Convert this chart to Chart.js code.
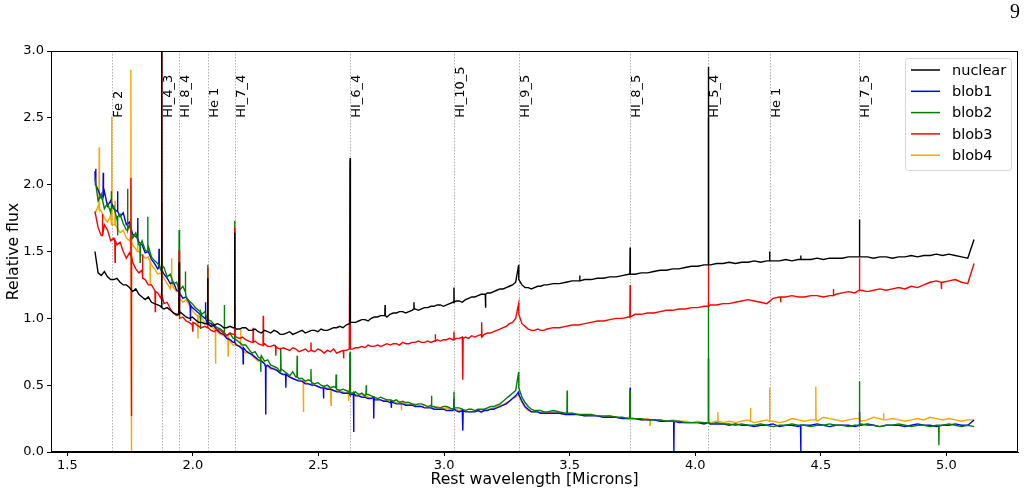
<!DOCTYPE html>
<html><head><meta charset="utf-8">
<script src="https://cdn.jsdelivr.net/npm/chart.js@4/dist/chart.umd.min.js"></script>
<style>html,body{margin:0;padding:0;background:#fff}#wrap{width:1029px;height:494px;position:relative}</style>
</head><body><div id="wrap"><canvas id="c" width="1029" height="494"></canvas></div>
<script>
// ---------- DATA ----------
const wavelength = [
1.61,1.6225,1.635,1.6475,1.66,1.6725,1.685,1.6975,1.71,1.7225,
1.735,1.7475,1.76,1.7725,1.785,1.7975,1.81,1.8225,1.835,1.8475,
1.86,1.8725,1.885,1.8975,1.91,1.9225,1.935,1.9475,1.96,1.9725,
1.985,1.9975,2.01,2.0225,2.035,2.0475,2.06,2.0725,2.085,2.0975,
2.11,2.1225,2.135,2.1475,2.16,2.1725,2.185,2.1975,2.21,2.2225,
2.235,2.2475,2.26,2.2725,2.285,2.2975,2.31,2.3225,2.335,2.3475,
2.36,2.3725,2.385,2.3975,2.41,2.4225,2.435,2.4475,2.46,2.4725,
2.485,2.4975,2.51,2.5225,2.535,2.5475,2.56,2.5725,2.585,2.5975,
2.61,2.6225,2.635,2.6475,2.66,2.6725,2.685,2.6975,2.71,2.7225,
2.735,2.7475,2.76,2.7725,2.785,2.7975,2.81,2.8225,2.835,2.8475,
2.86,2.8725,2.885,2.8975,2.91,2.9225,2.935,2.9475,2.96,2.9725,
2.985,2.9975,3.01,3.0225,3.035,3.0475,3.06,3.0725,3.085,3.0975,
3.11,3.1225,3.135,3.1475,3.16,3.1725,3.185,3.1975,3.21,3.2225,
3.235,3.2475,3.26,3.2725,3.285,3.2975,3.31,3.3225,3.335,3.3475,
3.36,3.3725,3.385,3.3975,3.41,
3.435,3.46,3.485,3.51,3.535,3.56,3.585,
3.61,3.635,3.66,3.685,3.71,3.735,3.76,3.785,3.81,3.835,
3.86,3.885,3.91,3.935,3.96,3.985,4.01,4.035,4.06,4.085,
4.11,4.135,4.16,4.185,4.21,4.235,4.26,4.285,4.31,4.335,
4.36,4.385,4.41,4.435,4.46,4.485,4.51,4.535,4.56,4.585,
4.61,4.635,4.66,4.685,4.71,4.735,4.76,4.785,4.81,4.835,
4.86,4.885,4.91,4.935,4.96,4.985,5.01,5.035,5.06,5.085,
5.11];

const nuclear = [
1.50,1.34,1.32,1.35,1.31,1.29,1.29,1.30,1.27,1.25,
1.25,1.23,1.20,1.22,1.18,1.16,1.14,1.16,1.12,1.11,
1.10,1.09,1.07,1.08,1.06,1.04,1.03,1.05,1.03,1.01,
1.00,1.01,0.99,0.97,0.97,0.96,0.96,0.94,0.95,0.96,
0.95,0.93,0.93,0.94,0.93,0.92,0.92,0.93,0.93,0.91,
0.91,0.92,0.90,0.89,0.91,0.90,0.89,0.91,0.90,0.88,
0.88,0.89,0.90,0.88,0.89,0.90,0.91,0.89,0.90,0.91,
0.91,0.90,0.92,0.91,0.91,0.92,0.93,0.93,0.94,0.93,
0.95,0.96,0.97,0.97,0.98,0.99,0.99,0.98,1.00,1.01,
1.01,1.02,1.02,1.01,1.03,1.04,1.04,1.05,1.05,1.04,
1.05,1.06,1.07,1.06,1.07,1.08,1.08,1.09,1.09,1.10,
1.10,1.09,1.10,1.11,1.12,1.13,1.13,1.12,1.14,1.15,
1.16,1.16,1.17,1.18,1.18,1.19,1.19,1.20,1.21,1.22,
1.22,1.23,1.24,1.25,1.27,1.29,1.25,1.23,1.23,1.22,
1.23,1.24,1.24,1.25,1.25,
1.26,1.26,1.27,1.28,1.28,1.29,1.29,
1.30,1.30,1.31,1.31,1.32,1.33,1.33,1.34,1.34,1.35,
1.36,1.36,1.37,1.37,1.38,1.39,1.39,1.40,1.40,1.41,
1.41,1.42,1.41,1.42,1.42,1.43,1.42,1.43,1.43,1.43,
1.44,1.43,1.44,1.44,1.44,1.45,1.44,1.45,1.45,1.45,
1.46,1.46,1.46,1.46,1.45,1.46,1.46,1.45,1.46,1.46,
1.47,1.46,1.47,1.47,1.48,1.47,1.48,1.47,1.46,1.45,
1.59];

const blob1 = [
2.10,1.96,1.90,1.95,1.84,1.88,1.82,1.80,1.76,1.79,
1.70,1.72,1.63,1.61,1.57,1.55,1.49,1.50,1.44,1.41,
1.37,1.38,1.33,1.30,1.26,1.27,1.21,1.19,1.15,1.16,
1.12,1.08,1.06,1.04,1.02,1.00,0.97,0.96,0.94,0.91,
0.89,0.88,0.85,0.84,0.82,0.80,0.79,0.77,0.76,0.74,
0.73,0.71,0.69,0.68,0.66,0.65,0.63,0.62,0.61,0.59,
0.58,0.58,0.56,0.55,0.54,0.53,0.53,0.51,0.51,0.50,
0.50,0.49,0.48,0.48,0.47,0.47,0.46,0.45,0.45,0.44,
0.44,0.44,0.43,0.42,0.42,0.41,0.41,0.40,0.40,0.39,
0.39,0.39,0.38,0.38,0.37,0.37,0.36,0.36,0.36,0.35,
0.35,0.35,0.34,0.34,0.34,0.33,0.33,0.33,0.32,0.32,
0.32,0.32,0.31,0.31,0.31,0.31,0.30,0.31,0.30,0.30,
0.30,0.30,0.31,0.30,0.31,0.31,0.32,0.32,0.33,0.34,
0.35,0.36,0.38,0.40,0.42,0.43,0.38,0.34,0.32,0.30,
0.30,0.30,0.29,0.29,0.29,
0.29,0.29,0.28,0.28,0.28,0.27,0.27,
0.27,0.26,0.26,0.26,0.25,0.25,0.25,0.24,0.24,0.24,
0.23,0.23,0.23,0.22,0.22,0.22,0.22,0.21,0.21,0.21,
0.21,0.20,0.21,0.20,0.20,0.19,0.20,0.20,0.21,0.19,
0.20,0.20,0.19,0.20,0.20,0.21,0.20,0.19,0.20,0.20,
0.20,0.19,0.20,0.21,0.20,0.19,0.20,0.20,0.20,0.19,
0.20,0.21,0.20,0.20,0.19,0.20,0.20,0.21,0.20,0.20,
0.24];

const blob2 = [
2.05,1.88,1.93,1.82,1.86,1.79,1.84,1.74,1.78,1.71,
1.66,1.70,1.60,1.64,1.55,1.58,1.51,1.54,1.46,1.43,
1.41,1.36,1.38,1.31,1.33,1.26,1.27,1.21,1.24,1.16,
1.13,1.11,1.08,1.06,1.03,1.05,0.99,0.98,0.95,0.93,
0.92,0.90,0.87,0.89,0.85,0.84,0.82,0.80,0.80,0.77,
0.74,0.75,0.71,0.72,0.68,0.69,0.65,0.64,0.63,0.60,
0.61,0.59,0.57,0.60,0.56,0.55,0.55,0.53,0.54,0.52,
0.51,0.52,0.50,0.49,0.50,0.48,0.49,0.47,0.46,0.47,
0.46,0.45,0.44,0.45,0.43,0.44,0.42,0.43,0.42,0.41,
0.40,0.41,0.40,0.39,0.39,0.38,0.39,0.37,0.38,0.37,
0.37,0.36,0.35,0.36,0.36,0.35,0.34,0.35,0.34,0.33,
0.33,0.34,0.34,0.33,0.32,0.33,0.33,0.32,0.31,0.32,
0.32,0.31,0.32,0.32,0.32,0.33,0.34,0.34,0.35,0.36,
0.38,0.40,0.42,0.44,0.46,0.48,0.41,0.37,0.34,0.32,
0.31,0.31,0.31,0.30,0.30,
0.31,0.30,0.29,0.29,0.28,0.28,0.28,
0.27,0.27,0.27,0.26,0.26,0.25,0.25,0.25,0.24,0.24,
0.24,0.23,0.23,0.23,0.22,0.22,0.22,0.22,0.21,0.22,
0.21,0.21,0.20,0.21,0.20,0.20,0.21,0.20,0.19,0.20,
0.20,0.21,0.20,0.20,0.19,0.20,0.20,0.21,0.20,0.20,
0.19,0.20,0.21,0.20,0.20,0.19,0.20,0.20,0.21,0.20,
0.19,0.20,0.20,0.19,0.20,0.20,0.21,0.20,0.19,0.20,
0.19];

const blob3 = [
1.80,1.68,1.62,1.70,1.66,1.58,1.60,1.55,1.57,1.50,
1.45,1.49,1.42,1.37,1.34,1.36,1.29,1.25,1.25,1.21,
1.19,1.15,1.11,1.12,1.07,1.04,1.02,1.00,1.01,0.98,
0.97,0.95,0.96,0.94,0.93,0.94,0.93,0.91,0.90,0.92,
0.91,0.89,0.87,0.89,0.88,0.86,0.85,0.86,0.84,0.83,
0.82,0.83,0.81,0.80,0.81,0.79,0.79,0.80,0.78,0.77,
0.78,0.77,0.76,0.78,0.77,0.75,0.76,0.77,0.75,0.76,
0.75,0.77,0.76,0.74,0.76,0.75,0.77,0.74,0.75,0.76,
0.76,0.77,0.77,0.78,0.78,0.79,0.78,0.80,0.79,0.79,
0.80,0.79,0.80,0.81,0.80,0.81,0.81,0.80,0.82,0.81,
0.81,0.82,0.82,0.83,0.82,0.82,0.83,0.82,0.83,0.84,
0.83,0.84,0.84,0.85,0.84,0.85,0.85,0.86,0.86,0.85,
0.87,0.86,0.87,0.88,0.88,0.89,0.89,0.90,0.91,0.92,
0.93,0.94,0.96,0.97,1.00,1.03,0.96,0.94,0.92,0.91,
0.91,0.92,0.91,0.91,0.92,
0.93,0.93,0.94,0.95,0.95,0.96,0.97,
0.98,0.98,0.99,1.00,1.00,1.01,1.03,1.03,1.04,1.04,
1.05,1.06,1.06,1.07,1.07,1.08,1.08,1.09,1.10,1.10,
1.11,1.11,1.12,1.13,1.14,1.13,1.12,1.11,1.15,1.16,
1.16,1.17,1.16,1.16,1.17,1.17,1.16,1.17,1.18,1.19,
1.20,1.19,1.21,1.20,1.21,1.22,1.21,1.22,1.23,1.22,
1.24,1.23,1.25,1.27,1.28,1.27,1.28,1.29,1.27,1.26,
1.41];

const blob4 = [
1.78,1.84,1.80,1.75,1.72,1.77,1.70,1.68,1.64,1.66,
1.60,1.58,1.55,1.52,1.50,1.47,1.45,1.46,1.40,1.37,
1.33,1.34,1.30,1.26,1.22,1.23,1.20,1.15,1.12,1.14,
1.10,1.06,1.03,1.02,1.00,0.97,0.95,0.94,0.92,0.90,
0.88,0.87,0.85,0.83,0.80,0.81,0.79,0.76,0.74,0.75,
0.72,0.70,0.68,0.69,0.66,0.64,0.62,0.63,0.61,0.59,
0.58,0.58,0.57,0.55,0.54,0.54,0.53,0.52,0.51,0.51,
0.50,0.49,0.48,0.49,0.48,0.47,0.46,0.46,0.46,0.45,
0.44,0.44,0.44,0.43,0.42,0.43,0.42,0.41,0.40,0.41,
0.40,0.39,0.38,0.39,0.39,0.38,0.37,0.38,0.37,0.36,
0.35,0.36,0.36,0.35,0.34,0.35,0.34,0.33,0.33,0.34,
0.33,0.32,0.33,0.32,0.31,0.32,0.31,0.32,0.31,0.30,
0.30,0.31,0.31,0.30,0.31,0.32,0.32,0.33,0.34,0.35,
0.35,0.37,0.38,0.40,0.41,0.42,0.37,0.33,0.31,0.30,
0.30,0.30,0.29,0.30,0.29,
0.30,0.29,0.28,0.29,0.28,0.27,0.28,
0.27,0.26,0.27,0.26,0.25,0.26,0.25,0.24,0.25,0.24,
0.24,0.23,0.24,0.23,0.23,0.22,0.23,0.22,0.22,0.23,
0.22,0.23,0.22,0.23,0.24,0.22,0.23,0.24,0.23,0.22,
0.23,0.25,0.24,0.23,0.24,0.23,0.26,0.25,0.24,0.23,
0.24,0.25,0.23,0.24,0.26,0.25,0.24,0.25,0.24,0.23,
0.24,0.25,0.24,0.26,0.25,0.24,0.25,0.24,0.23,0.24,
0.24];

// emission-line markers
const lineNames = ["Fe 2","HI_4_3","HI_8_4","He 1","HI_7_4","HI_6_4","HI_10_5","HI_9_5","HI_8_5","HI_5_4","He 1","HI_7_5"];
const lineWavelengths = [1.677,1.8756,1.9451,2.0587,2.1661,2.6259,3.0392,3.2970,3.7406,4.0523,4.2960,4.6538];
// peak flux of each series at each marked line (null = no peak) and continuum beside it
const nuclearPeaks = [null,3.40,1.42,1.30,1.64,2.20,1.23,1.40,1.53,2.88,1.50,1.74];
const nuclearBase  = [null,1.08,1.03,0.96,0.93,0.97,1.12,null,1.33,1.40,1.43,1.46];
const blob1Peaks   = [null,1.75,1.20,1.00,1.10,0.74,0.40,0.45,0.48,0.70,null,0.30];
const blob1Base    = [null,1.36,1.20,0.96,0.82,0.43,0.32,null,0.25,0.22,null,0.20];
const blob2Peaks   = [null,1.87,1.66,1.40,1.73,0.75,0.45,0.60,0.46,1.12,null,0.53];
const blob2Base    = [null,1.40,1.22,0.99,0.85,0.44,0.33,null,0.25,0.22,null,0.20];
const blob3Peaks   = [null,3.30,1.51,1.38,1.68,2.18,0.90,1.11,1.25,2.50,null,1.45];
const blob3Base    = [null,1.18,1.03,0.93,0.88,0.77,0.84,null,1.01,1.09,null,1.21];
const blob4Peaks   = [2.51,1.60,1.30,null,null,null,null,0.43,0.40,null,0.48,0.30];
const blob4Base    = [1.70,1.33,1.24,null,null,null,null,null,0.26,null,0.23,0.25];
// other narrow features [wavelength, continuum, flux]
const nuclearExtra = [[2.765,1.02,1.10],[2.88,1.07,1.12],[3.165,1.18,1.08],[3.54,1.28,1.32],[4.42,1.44,1.47]];
const blob1Extra = [[1.613,2.0,2.12],[1.643,1.92,2.09],[1.70,1.80,1.95],[1.78,1.60,1.75],[1.865,1.38,1.52],
  [1.99,1.10,0.98],[2.05,1.00,1.12],[2.20,0.78,0.66],[2.29,0.64,0.28],[2.37,0.58,0.48],[2.52,0.48,0.40],
  [2.64,0.44,0.15],[2.72,0.41,0.25],[2.79,0.38,0.33],[3.075,0.31,0.16],[3.915,0.23,0.0],[4.42,0.20,0.0]];
const blob2Extra = [[1.675,1.82,1.95],[1.70,1.76,1.62],[1.74,1.66,1.97],[1.79,1.55,1.42],[1.82,1.50,1.76],
  [1.97,1.20,1.35],[2.03,1.05,0.92],[2.125,0.89,1.10],[2.27,0.70,0.60],[2.35,0.62,0.78],[2.415,0.56,0.72],
  [2.47,0.53,0.62],[2.57,0.48,0.58],[2.69,0.43,0.50],[2.95,0.34,0.42],[3.49,0.29,0.46],[4.97,0.20,0.05]];
const blob3Extra = [[1.64,1.62,1.78],[1.69,1.58,1.42],[1.753,1.47,2.05],[1.7555,1.47,0.27],[1.80,1.30,1.48],
  [1.85,1.20,1.05],[2.00,0.97,0.90],[2.24,0.82,0.93],[2.28,0.80,1.02],[2.33,0.79,0.72],[2.47,0.76,0.82],
  [2.60,0.76,0.70],[2.965,0.83,0.88],[3.075,0.85,0.54],[3.15,0.86,0.97],[4.34,1.16,1.12],[4.55,1.17,1.22],[4.98,1.27,1.22]];
const blob4Extra = [[1.627,1.82,2.28],[1.69,1.70,1.88],[1.753,1.62,2.86],[1.7555,1.58,0.0],[1.78,1.50,1.70],
  [1.83,1.42,1.25],[1.915,1.28,1.45],[2.02,1.02,0.85],[2.09,0.93,0.66],[2.14,0.86,0.72],[2.19,0.80,0.92],
  [2.44,0.53,0.30],[2.55,0.47,0.35],[2.62,0.45,0.38],[2.83,0.37,0.31],[3.82,0.24,0.20],[4.09,0.23,0.30],
  [4.22,0.23,0.33],[4.48,0.24,0.49],[4.75,0.24,0.29]];

const xTicks = [1.5,2.0,2.5,3.0,3.5,4.0,4.5,5.0];
const yTicks = [0.0,0.5,1.0,1.5,2.0,2.5,3.0];
const seriesNames = ["nuclear","blob1","blob2","blob3","blob4"];
const seriesColors = ["#000000","#0000ff","#008000","#ff0000","#ffa500"];

// ---------- BUILD ----------
const HW = 0.001;
function buildPoints(values, peaks, bases, extras){
  const pts = wavelength.map((w,i)=>({x:w,y:values[i]}));
  lineWavelengths.forEach((w,i)=>{
    if(peaks[i]===null) return;
    pts.push({x:w,y:peaks[i]});
    if(bases[i]!==null){ pts.push({x:w-HW,y:bases[i]}); pts.push({x:w+HW,y:bases[i]}); }
  });
  extras.forEach(p=>{
    pts.push({x:p[0]-HW,y:p[1]}); pts.push({x:p[0],y:p[2]}); pts.push({x:p[0]+HW,y:p[1]});
  });
  pts.sort((a,b)=>a.x-b.x);
  return pts;
}
const seriesData = [
  buildPoints(nuclear,nuclearPeaks,nuclearBase,nuclearExtra),
  buildPoints(blob1,blob1Peaks,blob1Base,blob1Extra),
  buildPoints(blob2,blob2Peaks,blob2Base,blob2Extra),
  buildPoints(blob3,blob3Peaks,blob3Base,blob3Extra),
  buildPoints(blob4,blob4Peaks,blob4Base,blob4Extra)
];
const drawOrder = [1,4,3,2,5];

const FONT = "'DejaVu Sans', sans-serif";

const markerPlugin = {
  id:'markers',
  beforeDatasetsDraw(chart){
    const {ctx, chartArea:a, scales:{x,y}} = chart;
    ctx.save();
    lineWavelengths.forEach((w,i)=>{
      const px = Math.round(x.getPixelForValue(w))+0.5;
      ctx.strokeStyle = 'rgba(150,150,150,0.75)';
      ctx.lineWidth = 1;
      ctx.setLineDash([1.5,1.5]);
      ctx.beginPath(); ctx.moveTo(px,a.top); ctx.lineTo(px,a.bottom); ctx.stroke();
      ctx.setLineDash([]);
      ctx.save();
      ctx.translate(px, y.getPixelForValue(2.5));
      ctx.rotate(-Math.PI/2);
      ctx.fillStyle = '#000';
      ctx.font = "13px " + FONT;
      ctx.textAlign = 'left';
      ctx.textBaseline = 'top';
      ctx.fillText(lineNames[i], 0, 0);
      ctx.restore();
    });
    ctx.restore();
  },
  afterDraw(chart){
    const {ctx, chartArea:a} = chart;
    ctx.save();
    ctx.strokeStyle = '#000'; ctx.lineWidth = 1;
    ctx.strokeRect(a.left+0.5, a.top+0.5, a.right-a.left-1, a.bottom-a.top-1);
    ctx.fillStyle = '#000';
    ctx.font = "15.7px " + FONT;
    ctx.textAlign = 'center'; ctx.textBaseline = 'middle';
    ctx.fillText('Rest wavelength [Microns]', (a.left+a.right)/2, 480);
    ctx.save();
    ctx.translate(14, (a.top+a.bottom)/2);
    ctx.rotate(-Math.PI/2);
    ctx.fillText('Relative flux', 0, 0);
    ctx.restore();
    ctx.font = "20px 'Liberation Serif', serif";
    ctx.fillText('9', 1015, 13);
    const lx = 905, ly = 58, lw = 106, lh = 112;
    ctx.beginPath();
    if (ctx.roundRect) ctx.roundRect(lx+0.5, ly+0.5, lw, lh, 3); else ctx.rect(lx+0.5, ly+0.5, lw, lh);
    ctx.fillStyle = 'rgba(255,255,255,0.85)'; ctx.fill();
    ctx.strokeStyle = '#d6d6d6'; ctx.lineWidth = 1; ctx.stroke();
    ctx.font = "14.5px " + FONT;
    ctx.textAlign = 'left';
    seriesNames.forEach((n,i)=>{
      const yy = 70 + i*21.3;
      ctx.strokeStyle = seriesColors[i]; ctx.lineWidth = 1.5;
      ctx.beginPath(); ctx.moveTo(911, yy); ctx.lineTo(940, yy); ctx.stroke();
      ctx.fillStyle = '#000';
      ctx.fillText(n, 952, yy+1);
    });
    ctx.restore();
  }
};

new Chart(document.getElementById('c'), {
  type:'line',
  data:{
    datasets: seriesNames.map((n,i)=>({
      label:n, data:seriesData[i], borderColor:seriesColors[i], backgroundColor:seriesColors[i],
      borderWidth:1.4, pointRadius:0, tension:0, fill:false, order:drawOrder[i]
    }))
  },
  options:{
    responsive:false, animation:false, devicePixelRatio:1,
    parsing:false, normalized:true,
    layout:{padding:{top:51,right:11,left:0,bottom:0}},
    plugins:{legend:{display:false}, tooltip:{enabled:false}},
    scales:{
      x:{type:'linear', min:1.435, max:5.285,
        afterBuildTicks:s=>{ s.ticks = xTicks.map(v=>({value:v})); },
        afterFit:s=>{ s.height = 42; },
        ticks:{color:'#000', font:{family:FONT,size:13}, padding:2, autoSkip:false, maxRotation:0, callback:v=>Number(v).toFixed(1)},
        grid:{drawOnChartArea:false, drawTicks:true, tickLength:4, tickColor:'#000'},
        border:{display:true, color:'#000'}
      },
      y:{type:'linear', min:0, max:3,
        afterBuildTicks:s=>{ s.ticks = yTicks.map(v=>({value:v})); },
        afterFit:s=>{ s.width = 51; },
        ticks:{color:'#000', font:{family:FONT,size:13}, padding:3, autoSkip:false, callback:v=>Number(v).toFixed(1)},
        grid:{drawOnChartArea:false, drawTicks:true, tickLength:4, tickColor:'#000'},
        border:{display:true, color:'#000'}
      }
    }
  },
  plugins:[markerPlugin]
});
</script></body></html>
